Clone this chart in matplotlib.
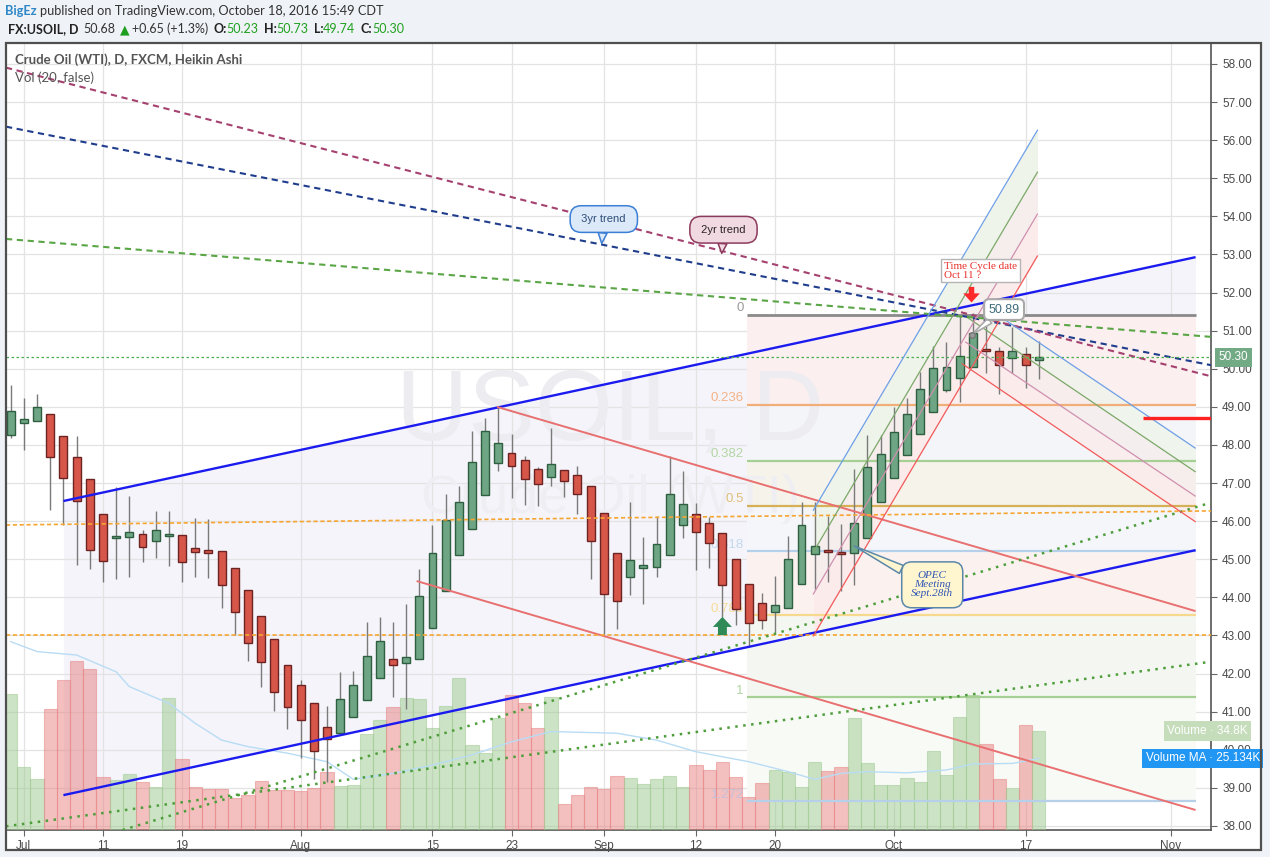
import numpy as np
import matplotlib
matplotlib.use("Agg")
import matplotlib.pyplot as plt
import matplotlib.transforms as mtransforms
from matplotlib.patches import Rectangle

# ---------------- data ----------------
opens = [48.25, 48.57, 48.62, 48.81, 48.23, 47.68, 47.10, 46.18, 45.55, 45.58,
         45.66, 45.47, 45.61, 45.63, 45.29, 45.24, 45.21, 44.76, 44.19, 43.50,
         42.90, 42.23, 41.69, 41.22, 40.59, 40.44, 40.87, 41.30, 41.88, 42.38,
         42.29, 42.38, 43.19, 44.16, 45.10, 45.79, 46.68, 47.52, 47.78, 47.60,
         47.36, 47.15, 47.34, 47.20, 46.93, 46.21, 45.16, 44.53, 44.76, 44.79,
         45.10, 45.89, 46.18, 45.94, 45.68, 45.00, 44.34, 43.84, 43.61, 43.71,
         44.34, 45.13, 45.24, 45.20, 45.17, 45.55, 46.50, 47.13, 47.73, 48.29,
         48.86, 49.44, 49.75, 50.04, 50.49, 50.47, 50.28, 50.38, 50.23]
highs = [49.57, 49.23, 49.34, 48.81, 48.23, 48.24, 47.10, 46.18, 46.90, 46.66,
         45.77, 46.27, 46.27, 45.63, 46.08, 46.06, 45.21, 44.76, 44.19, 43.50,
         42.90, 42.23, 41.83, 41.22, 41.15, 42.03, 42.07, 43.35, 43.49, 43.35,
         43.83, 44.75, 45.90, 46.71, 46.92, 48.37, 48.71, 48.99, 48.29, 47.71,
         47.41, 48.44, 47.34, 47.44, 46.93, 46.21, 45.16, 46.50, 45.59, 46.13,
         47.71, 47.32, 46.49, 46.10, 45.68, 45.00, 44.34, 44.11, 44.56, 45.61,
         46.50, 46.51, 46.14, 45.92, 47.38, 48.26, 48.26, 48.99, 49.24, 49.92,
         50.59, 50.71, 51.39, 51.46, 51.20, 50.56, 51.10, 50.56, 50.73]
lows = [48.18, 47.87, 48.62, 46.29, 45.90, 44.86, 44.75, 44.41, 44.47, 44.54,
        44.94, 45.04, 44.83, 44.41, 44.54, 44.52, 43.73, 43.00, 42.34, 41.66,
        41.03, 40.55, 39.78, 39.23, 39.16, 40.44, 40.87, 41.30, 41.88, 41.39,
        41.08, 42.38, 43.19, 44.16, 45.10, 45.79, 46.68, 47.33, 46.60, 46.43,
        46.40, 46.93, 46.63, 46.20, 44.49, 43.01, 43.16, 44.05, 43.83, 44.54,
        45.10, 45.55, 44.71, 44.76, 43.49, 43.28, 42.71, 43.16, 43.06, 43.71,
        44.34, 44.21, 44.41, 44.18, 44.33, 45.55, 46.50, 47.13, 47.73, 48.29,
        48.86, 49.40, 49.14, 50.04, 49.89, 49.34, 49.88, 49.49, 49.74]
closes = [48.88, 48.67, 48.99, 47.68, 47.13, 46.52, 45.24, 44.95, 45.60, 45.71,
          45.31, 45.76, 45.63, 44.92, 45.18, 45.16, 44.32, 43.61, 42.81, 42.31,
          41.53, 41.13, 40.77, 39.96, 40.28, 41.33, 41.69, 42.46, 42.85, 42.22,
          42.43, 44.03, 45.16, 46.02, 46.50, 47.55, 48.36, 48.04, 47.44, 47.10,
          46.97, 47.49, 47.05, 46.71, 45.47, 44.08, 43.90, 44.97, 44.84, 45.39,
          46.71, 46.44, 45.71, 45.44, 44.32, 43.69, 43.32, 43.40, 43.79, 45.00,
          45.89, 45.34, 45.20, 45.13, 45.94, 47.41, 47.76, 48.33, 48.81, 49.46,
          50.01, 50.04, 50.34, 50.93, 50.47, 50.09, 50.46, 50.09, 50.30]
volumes = [47.8, 22.1, 17.9, 42.5, 52.7, 59.4, 56.6, 18.6, 17.5, 19.7,
           16.9, 15.1, 46.4, 25.0, 15.1, 14.4, 14.4, 11.2, 12.2, 17.2,
           14.2, 14.1, 13.7, 14.9, 20.4, 15.5, 15.8, 33.7, 38.7, 43.2,
           46.3, 46.0, 35.9, 43.6, 53.4, 29.9, 27.1, 39.4, 47.5, 44.6,
           35.9, 46.7, 9.1, 12.3, 15.1, 14.4, 19.0, 18.3, 16.2, 17.9,
           19.0, 15.1, 22.8, 21.1, 23.9, 18.6, 11.6, 16.5, 21.1, 20.4,
           15.1, 23.9, 20.7, 22.1, 39.4, 23.6, 15.8, 15.8, 18.3, 16.9,
           27.8, 19.3, 39.7, 47.5, 30.2, 17.9, 14.9, 36.9, 34.8]
vol_ma_bars = [0, 2, 5, 8, 9, 12, 14, 16, 18, 21, 24, 26, 29, 32, 35, 38, 41,
               46, 49, 52, 56, 59, 61, 63, 65, 68, 71, 73, 76, 78]
vol_ma_vals = [66.2, 62.7, 61.5, 55.6, 50.4, 44.5, 37.5, 31.6, 29.3, 27.0, 24.0,
               17.8, 19.9, 22.8, 26.4, 31.0, 34.6, 34.0, 31.6, 27.5, 24.0, 20.5,
               17.8, 19.9, 20.5, 20.1, 21.1, 23.2, 23.4, 25.1]
tick_bars = [1, 7, 13, 22, 32, 38, 45, 52, 58, 67, 77, 88]
tick_labels = ['Jul', '11', '19', 'Aug', '15', '23', 'Sep', '12', '20', 'Oct', '17', 'Nov']
price_ticks = list(range(38, 59))

# drawings (bar index, price)
blue_upper = [(4.0, 46.53), (89.9, 52.93)]
blue_lower = [(4.0, 38.81), (89.9, 45.24)]
red_upper = [(36.9, 49.00), (89.9, 43.64)]
red_lower = [(30.8, 44.43), (89.9, 38.42)]
trend_3yr = [(-0.43, 56.36), (91.0, 50.10)]
trend_2yr = [(-0.30, 57.90), (91.0, 49.81)]
trend_green = [(-0.43, 53.41), (91.0, 50.84)]
orange_sloped = [(-0.43, 45.90), (91.0, 46.27)]
orange_flat = 43.01
dotted_steep = [(8.44, 37.89), (91.0, 46.48)]
dotted_shallow = [(-0.19, 38.00), (90.6, 42.29)]
fork_up_x = [60.9, 77.9]
fork_up = {'blue': [46.29, 56.26], 'green': [45.19, 55.16], 'pink': [44.09, 54.06], 'red': [42.99, 52.96]}
fork_dn = {'blue': [(73.8, 51.67), (89.87, 47.92)], 'green': [(72.66, 51.33), (89.87, 47.30)],
           'pink': [(72.46, 50.70), (89.87, 46.66)], 'red': [(72.2, 50.13), (89.87, 45.99)]}
fib_high, fib_low = 51.42, 41.38
fib_ratios = [0, 0.236, 0.382, 0.5, 0.618, 0.786, 1, 1.272]
fib_labels = ['0', '0.236', '0.382', '0.5', '0.618', '0.786', '1', '1.272']
fib_x = [55.9, 89.9]
last_price = 50.30
red_level = 48.70

# ---------------- style ----------------
plt.rcParams['font.family'] = ['Liberation Sans', 'DejaVu Sans']
W, H = 1270, 857
fig = plt.figure(figsize=(W / 100, H / 100), dpi=100)
fig.patch.set_facecolor('#eff2f6')

fig.add_artist(Rectangle((6 / W, 1 - 850 / H), 1255 / W, 807 / H, transform=fig.transFigure,
                         facecolor='white', edgecolor='none', zorder=-5))
fig.add_artist(Rectangle((6 / W, 1 - 850 / H), 1255 / W, 807 / H, transform=fig.transFigure,
                         facecolor='none', edgecolor='#4f4f4f', lw=1.6, zorder=20))

rect = [6 / W, 1 - 830 / H, 1205 / W, 787 / H]
ax_bg = fig.add_axes(rect, zorder=1)
ax_vol = fig.add_axes(rect, zorder=2, sharex=ax_bg)
ax = fig.add_axes(rect, zorder=3, sharex=ax_bg, sharey=ax_bg)
for a in (ax_vol, ax):
    a.patch.set_visible(False)
    for s in a.spines.values():
        s.set_visible(False)
    a.tick_params(left=False, right=False, bottom=False, top=False,
                  labelleft=False, labelright=False, labelbottom=False)

XMIN, XMAX = -0.357, 91.07
YMIN, YMAX = 37.895, 58.551
ax_bg.set_xlim(XMIN, XMAX)
ax_bg.set_ylim(YMIN, YMAX)
ax_vol.set_ylim(0, 276.6)

ax_bg.yaxis.tick_right()
ax_bg.set_yticks(price_ticks)
ax_bg.set_yticklabels([f"{v:.2f}" for v in price_ticks])
ax_bg.set_xticks(tick_bars)
ax_bg.set_xticklabels(tick_labels)
ax_bg.tick_params(axis='both', labelsize=8.5, labelcolor='#4a4a4a', color='#666666',
                  length=4, width=0.8)
ax_bg.tick_params(axis='y', pad=4)
ax_bg.tick_params(axis='x', pad=3)
ax_bg.grid(True, color='#e3e3e3', lw=0.9)
ax_bg.set_axisbelow(True)
for side, s in ax_bg.spines.items():
    s.set_color('#555555')
    s.set_linewidth(1.2)

idx = np.arange(len(opens))
o = np.array(opens); c = np.array(closes); hi = np.array(highs); lo = np.array(lows)
up = c >= o

# ---- background fills (channel + fib + forks) ----
cx = np.array([blue_upper[0][0], blue_upper[1][0]])
ax_bg.fill_between(cx, [blue_lower[0][1], blue_lower[1][1]], [blue_upper[0][1], blue_upper[1][1]],
                   color='#f4f4fa', lw=0, zorder=0.5)
fib_prices = [fib_high - r * (fib_high - fib_low) for r in fib_ratios]
zone_colors = ['#fbefef', '#f3f5f9', '#f6f4ea', '#f4f6fa', '#fbf2f0', '#f4f7f1', '#f8faf6']
for k in range(len(fib_prices) - 1):
    ax_bg.fill_between(fib_x, fib_prices[k + 1], fib_prices[k], color=zone_colors[k], lw=0, zorder=0.6)
fork_cols = {'blue': '#6e9fe6', 'green': '#7ca869', 'pink': '#cf8fae', 'red': '#f25a5a'}
fork_fill = ['#eef4ea', '#f6eded', '#fcebeb']
names = ['blue', 'green', 'pink', 'red']
for k in range(3):
    ax_bg.fill_between(fork_up_x, fork_up[names[k + 1]], fork_up[names[k]], color=fork_fill[k],
                       lw=0, zorder=0.7)
for k in range(3):
    a1, a2 = fork_dn[names[k]], fork_dn[names[k + 1]]
    xs0 = max(a1[0][0], a2[0][0]); xs1 = min(a1[1][0], a2[1][0])
    xx = np.array([xs0, xs1])
    y1 = np.interp(xx, [a1[0][0], a1[1][0]], [a1[0][1], a1[1][1]])
    y2 = np.interp(xx, [a2[0][0], a2[1][0]], [a2[0][1], a2[1][1]])
    ax_bg.fill_between(xx, y2, y1, color=fork_fill[k], lw=0, zorder=0.7, alpha=0.8)

# watermark
ax_bg.text(0.5012, 0.4956, 'USOIL, D', transform=ax_bg.transAxes, ha='center', va='baseline',
           fontsize=72, color='#ececf1', zorder=0.8)
ax_bg.text(0.5012, 0.4028, 'Crude Oil (WTI)', transform=ax_bg.transAxes, ha='center', va='baseline',
           fontsize=39, color='#efeff3', zorder=0.8)

# ---- volume ----
vcol = np.where(up, '#9cc98e', '#e88080')
ax_vol.bar(idx, volumes, width=1.0, color=vcol, alpha=0.5, edgecolor=vcol, linewidth=0.8, zorder=1)
ax_vol.plot(vol_ma_bars, vol_ma_vals, color='#b9dcf5', lw=1.0, zorder=2)

# ---- fib lines + labels ----
fib_line_cols = ['#8a8a8a', '#f2ae78', '#a6cf94', '#d6b056', '#b6d0ea', '#f7d98e', '#a6cf94', '#b6d0ea']
fib_lab_cols = ['#9a9a9a', '#f5b386', '#b3d6a4', '#dfbf78', '#c3d8ee', '#f8dc95', '#b3d6a4', '#c6c0d8']
for k, p in enumerate(fib_prices):
    ax.hlines(p, fib_x[0], fib_x[1], color=fib_line_cols[k], lw=2.0 if k == 0 else 1.6, zorder=2)
    ax.text(55.63, p + 0.17, fib_labels[k], ha='right', va='center', fontsize=9.5,
            color=fib_lab_cols[k], zorder=2)

# ---- candles ----
body_bot = np.minimum(o, c)
body_h = np.maximum(np.abs(c - o), 0.045)
ax.vlines(idx, lo, hi, color='#7a7a7a', lw=1.0, zorder=3)
ax.bar(idx, body_h, bottom=body_bot, width=0.6,
       color=np.where(up, '#6ea584', '#d6564a'),
       edgecolor=np.where(up, '#2e5f40', '#6e2323'), linewidth=1.0, zorder=3.5)

# ---- drawings ----
def seg(pts, **kw):
    ax.plot([pts[0][0], pts[1][0]], [pts[0][1], pts[1][1]], solid_capstyle='butt', **kw)

seg(blue_upper, color='#1b1bf0', lw=1.7, zorder=5)
seg(blue_lower, color='#1b1bf0', lw=1.7, zorder=5)
seg(red_upper, color='#e87070', lw=1.4, zorder=5)
seg(red_lower, color='#e87070', lw=1.4, zorder=5)
ax.axline(trend_3yr[0], trend_3yr[1], color='#1f3d8c', lw=1.5, ls=(0, (3, 2.2)), zorder=5)
ax.axline(trend_2yr[0], trend_2yr[1], color='#a5416f', lw=1.5, ls=(0, (3, 2.2)), zorder=5)
ax.axline(trend_green[0], trend_green[1], color='#5aa646', lw=1.5, ls=(0, (3, 2.2)), zorder=5)
ax.axline(orange_sloped[0], orange_sloped[1], color='#f7a531', lw=1.2, ls=(0, (2.5, 1.6)), zorder=5)
ax.axhline(orange_flat, color='#f7a531', lw=1.2, ls=(0, (2.5, 1.6)), zorder=5)
ax.axline(dotted_steep[0], dotted_steep[1], color='#4e9e3c', lw=1.8, ls=(0, (1, 2.2)), zorder=5)
ax.axline(dotted_shallow[0], dotted_shallow[1], color='#4e9e3c', lw=1.8, ls=(0, (1, 2.2)), zorder=5)
ax.axhline(last_price, color='#4caf50', lw=0.9, ls=(0, (2, 2)), zorder=5)
for n in names:
    ax.plot(fork_up_x, fork_up[n], color=fork_cols[n], lw=0.9, zorder=5)
    pts = fork_dn[n]
    ax.plot([pts[0][0], pts[1][0]], [pts[0][1], pts[1][1]], color=fork_cols[n], lw=0.9, zorder=5)
ax.hlines(red_level, 85.9, XMAX, color='#ff2222', lw=2.4, zorder=5)

# ---- callouts ----
ax.annotate(' 3yr trend ', xy=(44.84, 53.29), xytext=(45.0, 53.93), textcoords='data',
            ha='center', va='center', fontsize=8, color='#2f4d78', zorder=9,
            bbox=dict(boxstyle='round,pad=0.75,rounding_size=1.0', fc='#dbe9f8', ec='#3c7fd6', lw=1.1),
            arrowprops=dict(arrowstyle='wedge,tail_width=0.8,shrink_factor=0.5', fc='#dbe9f8',
                            ec='#3c7fd6', lw=1.1, shrinkA=0, shrinkB=0))
ax.annotate(' 2yr trend ', xy=(53.95, 53.03), xytext=(54.08, 53.65), textcoords='data',
            ha='center', va='center', fontsize=8, color='#2a2226', zorder=9,
            bbox=dict(boxstyle='round,pad=0.75,rounding_size=1.0', fc='#f1d9e2', ec='#8c3a5c', lw=1.1),
            arrowprops=dict(arrowstyle='wedge,tail_width=0.8,shrink_factor=0.5', fc='#f1d9e2',
                            ec='#8c3a5c', lw=1.1, shrinkA=0, shrinkB=0))
ax.annotate('50.89', xy=(72.9, 50.89), xytext=(75.37, 51.555), textcoords='data',
            ha='center', va='center', fontsize=9, color='#3e6c7c', zorder=9,
            bbox=dict(boxstyle='round,pad=0.35,rounding_size=0.4', fc='white', ec='#a9a9a9', lw=1.5),
            arrowprops=dict(arrowstyle='wedge,tail_width=0.5,shrink_factor=0.5', fc='white',
                            ec='#a9a9a9', lw=1.2, shrinkA=0, shrinkB=0))
ax.plot([72.9], [50.89], 'o', ms=4, mfc='#9a9a9a', mec='#777777', zorder=9.5)
ax.annotate('OPEC\nMeeting\nSept.28th', xy=(64.0, 45.35), xytext=(69.92, 44.33), textcoords='data',
            ha='center', va='center', fontsize=8, color='#2f55b5', zorder=9,
            family=['Liberation Serif', 'DejaVu Serif'], style='italic', linespacing=1.0,
            bbox=dict(boxstyle='round,pad=0.85,rounding_size=0.9', fc='#fff5cf', ec='#5b87a8', lw=1.1),
            arrowprops=dict(arrowstyle='wedge,tail_width=0.8,shrink_factor=0.5', fc='#fff5cf',
                            ec='#5b87a8', lw=1.1, shrinkA=0, shrinkB=0))
ax.text(73.58, 52.57, 'Time Cycle date\nOct 11 ?', ha='center', va='center', fontsize=8,
        color='#e8302a', family=['Liberation Serif', 'DejaVu Serif'], linespacing=0.95,
        multialignment='left', zorder=9,
        bbox=dict(boxstyle='square,pad=0.25', fc='white', ec='#b5b5b5', lw=1.0))
ax.annotate('', xy=(72.9, 51.74), xytext=(72.9, 52.15), zorder=9,
            arrowprops=dict(arrowstyle='simple,head_length=0.47,head_width=0.85,tail_width=0.28',
                            fc='#ff2b2b', ec='none', mutation_scale=14, shrinkA=0, shrinkB=0))
ax.annotate('', xy=(54.0, 43.49), xytext=(54.0, 43.01), zorder=9,
            arrowprops=dict(arrowstyle='simple,head_length=0.52,head_width=0.98,tail_width=0.46',
                            fc='#2f8a57', ec='none', mutation_scale=14, shrinkA=0, shrinkB=0))

# ---- price-scale labels ----
bt = mtransforms.blended_transform_factory(ax.transAxes, ax.transData)
ax.text(1.0065, last_price, '50.30', transform=bt, ha='left', va='center', fontsize=8.5,
        color='white', zorder=12, clip_on=False,
        bbox=dict(boxstyle='square,pad=0.3', fc='#73aa86', ec='none'))
bv = mtransforms.blended_transform_factory(ax_vol.transAxes, ax_vol.transData)
ax_vol.text(1.0305, volumes[-1], 'Volume · 34.8K', transform=bv, ha='right', va='center',
            fontsize=8.5, color='white', zorder=12, clip_on=False,
            bbox=dict(boxstyle='square,pad=0.3', fc='#c6ddbb', ec='none'))
ax_vol.text(1.0405, 25.134, 'Volume MA · 25.134K', transform=bv, ha='right', va='center',
            fontsize=8.5, color='white', zorder=12, clip_on=False,
            bbox=dict(boxstyle='square,pad=0.3', fc='#2196f3', ec='none'))

# ---- header texts ----
renderer = fig.canvas.get_renderer()

def seq_text(x_px, y_px, pieces, size, family):
    x = x_px
    for s, color, weight, gap in pieces:
        t = fig.text(x / W, 1 - y_px / H, s, color=color, fontsize=size, fontweight=weight,
                     family=family, va='center', ha='left', zorder=15)
        x += t.get_window_extent(renderer=renderer).width + gap

hdr_font = ['Lato', 'DejaVu Sans']
seq_text(5, 11, [('BigEz', '#2e87c8', 'bold', 3),
                 ('published on TradingView.com, October 18, 2016 15:49 CDT', '#333333', 'normal', 0)],
         9.2, hdr_font)
G = '#21a121'
seq_text(8, 29, [('FX:USOIL, D', '#222222', 'bold', 5), ('50.68', '#333333', 'normal', 4),
                 ('▲', '#1e9e1e', 'normal', 3), ('+0.65 (+1.3%)', '#333333', 'normal', 5),
                 ('O:', '#222222', 'bold', 0), ('50.23', G, 'normal', 5),
                 ('H:', '#222222', 'bold', 0), ('50.73', G, 'normal', 5),
                 ('L:', '#222222', 'bold', 0), ('49.74', G, 'normal', 5),
                 ('C:', '#222222', 'bold', 0), ('50.30', G, 'normal', 0)],
         9.0, hdr_font)
fig.text(15 / W, 1 - 60 / H, 'Crude Oil (WTI), D, FXCM, Heikin Ashi', fontsize=9.5, fontweight='bold',
         color='#555555', family=hdr_font, va='center', ha='left', zorder=15)
fig.text(15 / W, 1 - 78 / H, 'Vol (20, false)', fontsize=9.5, color='#555555', family=hdr_font,
         va='center', ha='left', zorder=15)

fig.savefig('out.png', dpi=100, facecolor=fig.get_facecolor())
